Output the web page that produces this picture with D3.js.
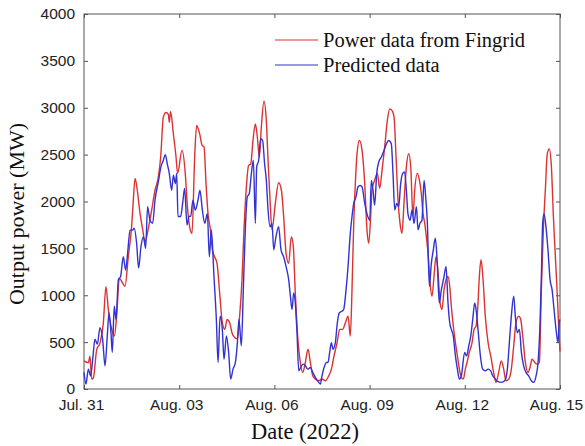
<!DOCTYPE html>
<html lang="en">
<head>
<meta charset="UTF-8">
<title>Output power</title>
<script src="https://d3js.org/d3.v7.min.js"></script>
<style>
  body { margin: 0; background: #fff; }
  .tick text { font-family: "Liberation Sans", Arial, sans-serif; font-size: 15.5px; fill: #222; }
  .tick line { stroke: #555; }
  .serif { font-family: "Liberation Serif", "Times New Roman", serif; fill: #111; }
</style>
</head>
<body>
<svg width="585" height="446"></svg>
<script>
// hours since Jul. 31 00:00
const xTickHours = [0, 72, 144, 216, 288, 360];
const xTickLabels = ["Jul. 31", "Aug. 03", "Aug. 06", "Aug. 09", "Aug. 12", "Aug. 15"];
const yTicks = [0, 500, 1000, 1500, 2000, 2500, 3000, 3500, 4000];

// Power data from Fingrid
const fingridHours = [0,3.3,4.5,5.8,7.1,9.6,12.1,14.6,16.6,18.4,20.9,22.9,24.7,26.7,29.2,31,33.5,36,37.3,38.6,40.3,42.4,44.4,46.1,48.7,51.2,53.7,56.2,58,60,62,63.8,64.5,65.5,67.6,69.6,70.8,
  74.1,76.6,78.2,79.9,81.7,83.7,85.2,87.5,89.3,90.8,92.3,93.8,95.6,97.1,98.8,100.6,102.6,104.6,106.4,108.2,110.2,111.9,114,116,117.7,119.5,121,122.8,124.5,126.1,127.8,129.6,131.1,132.6,134.1,136.1,137.9,139.2,140.7,
  142.2,144.7,147.2,149.3,151,152.8,154.8,156.8,158.3,159.8,161.6,163.6,165.4,167.4,169.4,171.2,173,175,177.5,180,182.5,185.1,187.1,189.1,191.4,193.4,195.6,197.7,199.7,201.4,202.7,204,205.2,206.5,208.3,210.3,212.3,214,
  215.3,216.8,217.8,219.8,221.9,223.6,225.4,227.4,229.4,231.2,233,234.5,236,237.5,239,240.5,242,243.8,245.6,247.1,248.8,250.1,252.1,253.9,255.1,256.4,257.7,258.9,260.2,261.7,263.2,264.7,266.2,267.8,269.3,270.8,272.3,273.8,275.3,276.6,277.8,279.3,280.9,282.4,283.9,285.4,
  286.9,288.4,289.7,291.4,293.5,295,296.5,298,299,300.3,301.8,303.5,305.6,307.6,309.8,311.6,313.6,315.6,317.4,319.2,321.2,323.2,325,326.7,328.8,330.3,331.8,333.8,335.8,337.6,338.8,340.9,342.6,344.4,345.9,347.4,348.9,350.4,351.9,353.5,355,356.5,358,359.2,360];
const fingridValues = [300,280,350,106,120,420,490,700,1090,850,640,565,780,1180,1130,1095,1410,1730,2015,2245,2120,1870,1700,1570,1715,1910,2120,2260,2475,2900,2950,2930,2845,2960,2720,2475,2300,
  2545,2300,1945,1730,1660,2475,2810,2720,2600,2580,2190,1870,1700,1485,1410,1340,1025,707,636,742,707,600,548,537,777,1166,1700,2155,2385,2400,2650,2827,2685,2475,2790,3070,2860,2440,2015,
  1700,1980,2200,2120,1840,1450,1340,1625,1520,1025,565,283,177,283,424,283,141,106,88,106,88,141,212,353,495,636,636,707,777,565,1060,1767,2190,2510,2650,2545,2190,1700,
  1555,1840,2120,2225,2300,2140,2330,2580,2862,2986,2970,2900,2475,2015,1767,1660,1980,2370,2510,2370,1840,2120,2300,2210,2085,1870,1767,1625,1450,1130,990,1200,1410,1237,919,848,1060,1166,1200,1095,883,671,495,353,212,124,
  106,212,283,390,495,636,671,919,1200,1378,1166,777,495,353,177,71,177,300,212,88,106,212,460,707,777,742,565,283,177,247,318,283,265,283,1060,1700,2120,2510,2560,2370,1840,1410,990,600,400];

// Predicted data
const predictedHours = [0,1.5,3.3,5,6.6,8.3,10.1,12.1,14.1,15.9,17.6,18.9,20.4,21.4,22.9,24.2,26,27.7,29.7,31.5,33,34.8,36.8,38,39.8,41.3,43.1,44.9,46.6,48.1,49.9,51.9,53.7,56.2,58.2,60,61.5,63,64.5,66.3,67.6,69.1,70.1,
  71.1,73.1,74.6,76.1,77.9,79.4,80.7,82.4,84.2,86.2,87.7,89.5,91.3,93.3,94.8,96.3,98.3,100.1,101.4,102.9,104.6,105.9,107.7,109.4,110.9,112.7,114.5,116,117.2,119,120.5,122,123.5,125,126.6,128.1,129.6,130.6,132.1,133.6,135.1,136.6,137.9,139.2,140.7,
  142.2,143.5,145.2,147.2,149,151,152.8,154.8,156.1,157.3,158.6,159.8,161.1,162.4,164.4,166.1,167.4,169.4,171.2,173,175,177.5,178.8,180,182,183.3,184.5,185.8,187.1,188.3,190.1,191.6,193.1,195.1,196.4,198.2,199.7,201.4,202.7,204,205.7,207.2,208.8,210.3,212.3,214,
  216.1,217.3,218.6,219.8,221.4,222.9,224.9,226.9,228.7,230.4,232.4,233.7,235,236.5,238,239.5,241,242.5,243.8,245,246.6,248.1,249.6,251.4,252.6,254.1,255.6,257.2,258.4,259.7,261.2,262.7,264.2,265.7,267.2,268.7,270.3,272.3,273.8,275.3,276.6,277.8,279.3,280.9,282.4,283.9,285.4,
  287.9,289.4,291,292.5,294,295.5,296.5,298,299.8,301.5,303.5,305.6,307.6,309.1,311.1,313.1,315.6,318.2,320.2,321.7,323.2,325,326.2,327.7,329.3,330.8,332.5,334.3,336.3,338.3,340.1,341.9,343.4,344.9,345.9,346.9,347.9,349.4,350.9,352.5,354,355.5,357,358.5,359.4,360];
const predictedValues = [177,53,212,141,318,530,477,654,530,247,565,813,600,390,883,742,1166,1200,1410,1270,1450,1695,1695,1715,1555,1290,1520,1625,1500,1945,1800,1767,2015,2210,2370,2440,2500,2400,2300,2120,2280,2190,2300,
  1840,1840,1980,2140,1750,1840,1845,2015,1910,2015,2120,1910,1767,1870,1410,1700,1200,742,283,777,636,318,565,390,106,212,283,495,742,460,1060,1700,2050,2085,2300,2440,1767,2370,2440,2670,2650,2400,2225,1910,1730,
  1767,1485,1625,1730,1485,1410,1307,1166,990,848,1025,919,600,194,247,265,247,212,230,177,124,71,53,141,247,283,283,390,495,424,495,707,813,830,848,1060,1307,1660,1840,1980,2050,2155,2170,2155,1980,1870,
  1800,2225,2120,1960,2300,2420,2475,2545,2615,2650,2615,2300,1910,1980,1945,2190,2300,2315,2120,1870,1800,1910,1767,1945,1700,1767,1800,2225,2050,1767,1095,1340,1485,1608,1340,919,1060,1200,1307,919,707,636,565,353,212,106,141,
  390,353,460,565,742,919,848,636,353,212,194,212,194,141,106,78,71,88,212,495,777,990,777,600,636,390,247,177,141,88,71,141,283,707,1200,1767,1870,1730,1485,1166,1060,848,636,495,707,742];

const svg = d3.select("svg");
const plotLeft = 84, plotRight = 560, plotTop = 14, plotBottom = 389;

const x = d3.scaleLinear().domain([0, 360]).range([plotLeft, plotRight]);
const y = d3.scaleLinear().domain([0, 4000]).range([plotBottom, plotTop]);

// axes with inward ticks (left/bottom labelled, top/right mirrored)
svg.append("g")
    .attr("transform", `translate(0,${plotBottom})`)
    .call(d3.axisBottom(x).tickValues(xTickHours)
        .tickFormat((d, i) => xTickLabels[i])
        .tickSizeInner(-4).tickSizeOuter(0).tickPadding(10))
    .call(g => g.select(".domain").remove())
    .call(g => g.selectAll(".tick text").attr("dx", (d, i) => i === xTickLabels.length - 1 ? -4 : -3));

svg.append("g")
    .attr("transform", `translate(${plotLeft},0)`)
    .call(d3.axisLeft(y).tickValues(yTicks).tickFormat(d3.format("d"))
        .tickSizeInner(-4).tickSizeOuter(0).tickPadding(9))
    .call(g => g.select(".domain").remove());

svg.append("g")
    .attr("transform", `translate(0,${plotTop})`)
    .call(d3.axisTop(x).tickValues(xTickHours).tickFormat("")
        .tickSizeInner(-4).tickSizeOuter(0))
    .call(g => g.select(".domain").remove());

svg.append("g")
    .attr("transform", `translate(${plotRight},0)`)
    .call(d3.axisRight(y).tickValues(yTicks).tickFormat("")
        .tickSizeInner(-4).tickSizeOuter(0))
    .call(g => g.select(".domain").remove());

// frame
svg.append("rect")
    .attr("x", plotLeft).attr("y", plotTop)
    .attr("width", plotRight - plotLeft).attr("height", plotBottom - plotTop)
    .attr("fill", "none").attr("stroke", "#555").attr("stroke-width", 1);

const line = d3.line()
    .x(d => x(d[0]))
    .y(d => y(d[1]))
    .curve(d3.curveMonotoneX);

const fingrid = fingridHours.map((h, i) => [h, fingridValues[i]]);
const predicted = predictedHours.map((h, i) => [h, predictedValues[i]]);

svg.append("path")
    .datum(fingrid)
    .attr("fill", "none")
    .attr("stroke", "#dc3232")
    .attr("stroke-width", 1.4)
    .attr("d", line);

svg.append("path")
    .datum(predicted)
    .attr("fill", "none")
    .attr("stroke", "#3232d2")
    .attr("stroke-width", 1.4)
    .attr("d", line);

// legend
const legend = [
    { name: "Power data from Fingrid", color: "#dc3232" },
    { name: "Predicted data", color: "#3232d2" }
];
legend.forEach((d, i) => {
    const ly = 40 + i * 25;
    svg.append("line")
        .attr("x1", 275).attr("x2", 318)
        .attr("y1", ly).attr("y2", ly)
        .attr("stroke", d.color).attr("stroke-width", 1.2);
    svg.append("text")
        .attr("class", "serif")
        .attr("x", 323).attr("y", ly + 7)
        .attr("font-size", 20.5)
        .text(d.name);
});

// axis titles
svg.append("text")
    .attr("class", "serif")
    .attr("x", 305).attr("y", 439)
    .attr("text-anchor", "middle")
    .attr("font-size", 22.5)
    .text("Date (2022)");

svg.append("text")
    .attr("class", "serif")
    .attr("transform", "translate(24,214) rotate(-90)")
    .attr("text-anchor", "middle")
    .attr("font-size", 22)
    .text("Output power (MW)");
</script>
</body>
</html>
